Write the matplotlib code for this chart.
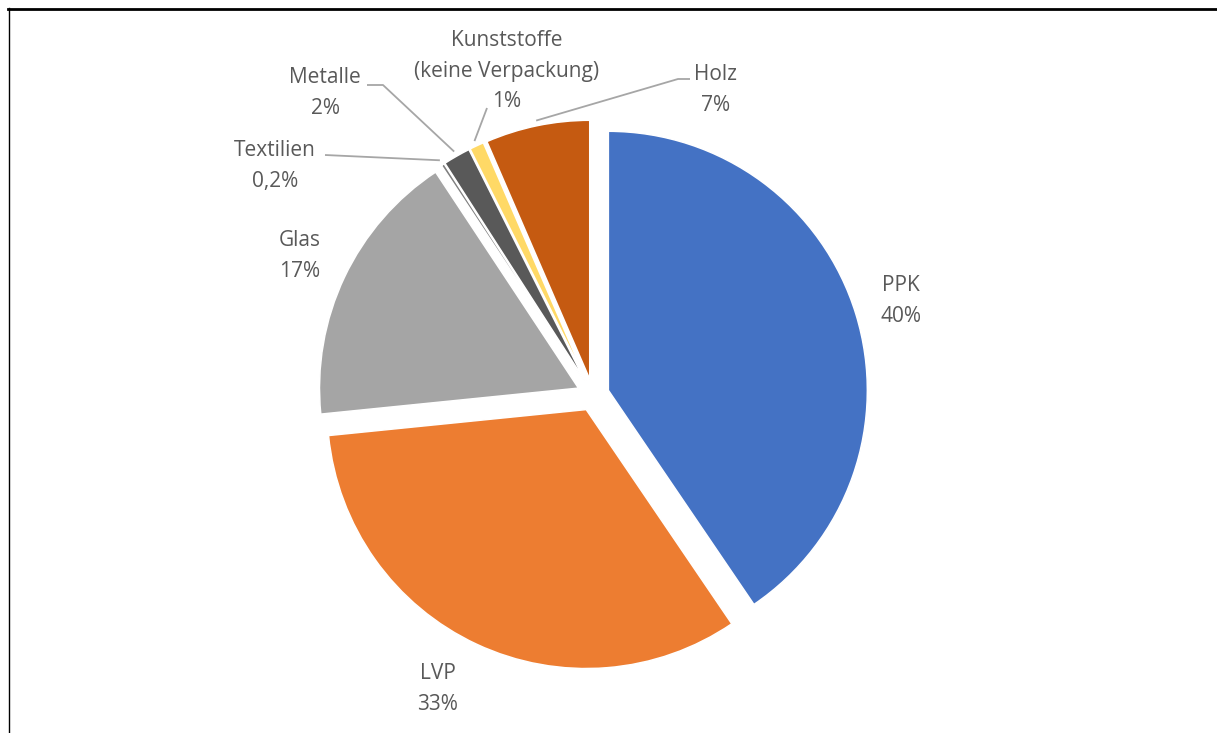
import matplotlib
matplotlib.use('Agg')
import matplotlib.pyplot as plt
from matplotlib.lines import Line2D
import numpy as np

categories = ['PPK', 'LVP', 'Glas', 'Textilien', 'Metalle',
              'Kunststoffe\n(keine Verpackung)', 'Holz']
values = [40.5, 32.9, 17.3, 0.2, 1.7, 0.9, 6.5]
pct_labels = ['40%', '33%', '17%', '0,2%', '2%', '1%', '7%']
colors = ['#4472C4', '#ED7D31', '#A5A5A5', '#7F7F7F', '#595959', '#FFD966', '#C55A11']

W, H = 1217, 733
fig = plt.figure(figsize=(W / 100, H / 100), dpi=100)
ax = fig.add_axes([0, 0, 1, 1])
CX, CY, R = 593, 395, 259


def px2d(px, py):
    return ((px - CX) / R, (CY - py) / R)


wedges, _ = ax.pie(values, colors=colors, startangle=90, counterclock=False,
                   explode=[0.062] * len(values), radius=1,
                   wedgeprops=dict(linewidth=1.1, edgecolor='white'))
ax.set_aspect('auto')
ax.set_xlim(-CX / R, (W - CX) / R)
ax.set_ylim(-(H - CY) / R, CY / R)
ax.axis('off')

# label centres (pixels)
label_pos = [(901, 301), (438, 689), (300, 256), (275, 166), (325, 93), (507, 71), (716, 90)]
txt_color = '#595959'
for cat, pct, (px, py) in zip(categories, pct_labels, label_pos):
    x, y = px2d(px, py)
    ax.text(x, y, f'{cat}\n{pct}', ha='center', va='center', fontsize=15,
            family='Open Sans', color=txt_color, linespacing=1.6)

# leader lines: start points (pixels) per labelled small slice
leader_starts = {3: [(325, 155)], 4: [(367, 85), (383, 85)], 5: [(487, 108)],
                 6: [(690, 79), (678, 79)]}
for i, pts in leader_starts.items():
    w = wedges[i]
    th = np.deg2rad((w.theta1 + w.theta2) / 2)
    cx, cy = w.center
    ex, ey = cx + 1.02 * np.cos(th), cy + 1.02 * np.sin(th)
    xs = [px2d(*p)[0] for p in pts] + [ex]
    ys = [px2d(*p)[1] for p in pts] + [ey]
    ax.plot(xs, ys, color='#A6A6A6', lw=1.3, solid_capstyle='butt')

# frame border (top and left)
fig.add_artist(Line2D([8, W], [H - 9, H - 9], transform=None, color='black', lw=2))
fig.add_artist(Line2D([8.5, 8.5], [0, H - 8], transform=None, color='black', lw=1))

fig.savefig('out.png', dpi=100)
